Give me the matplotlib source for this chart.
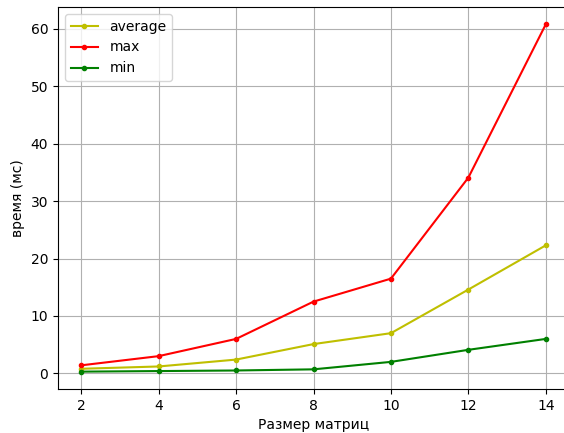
import matplotlib
matplotlib.use("Agg")
import matplotlib.pyplot as plt

sizes = [2, 4, 6, 8, 10, 12, 14]
avg_ms = [0.8, 1.2, 2.4, 5.1, 7.0, 14.6, 22.3]
max_ms = [1.4, 3.0, 6.0, 12.5, 16.5, 34.1, 60.8]
min_ms = [0.3, 0.4, 0.5, 0.7, 2.0, 4.1, 6.0]

fig = plt.figure(figsize=(5.64, 4.33), dpi=100)
# right spine falls just outside the picture, as in the reference
ax = fig.add_axes([58 / 564, 44 / 433, 511 / 564, 382 / 433])

ax.plot(sizes, avg_ms, "y.-", label="average")
ax.plot(sizes, max_ms, "r.-", label="max")
ax.plot(sizes, min_ms, "g.-", label="min")

ax.set_xlabel("Размер матриц")
ax.set_ylabel("время (мс)")
ax.grid(True)
ax.legend(loc="upper left")

fig.savefig("out.png", dpi=100)
